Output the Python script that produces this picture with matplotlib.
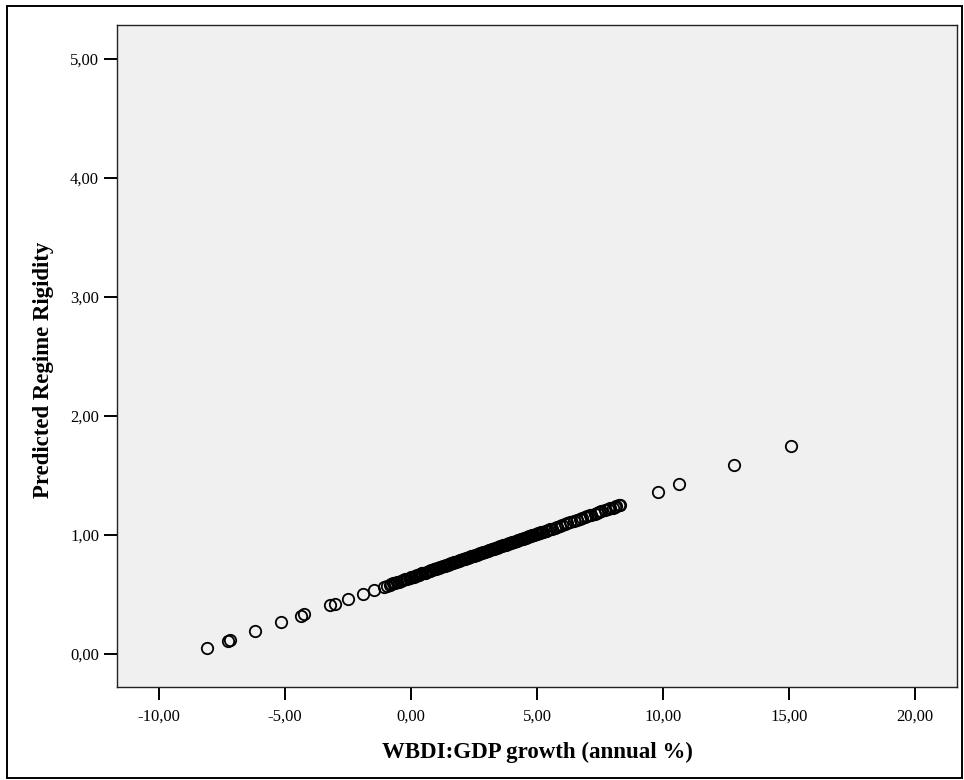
import matplotlib.pyplot as plt
from matplotlib.patches import Rectangle
from matplotlib.ticker import FuncFormatter

# GDP growth (annual %)
gdp_growth = [-8.11, -7.25, -7.18, -6.19, -5.16, -4.38, -4.23, -3.21, -3.02,
              -2.49, -1.92, -1.46, -1.07, -0.85, -0.70, -0.55, -0.40, -0.30,
              -0.15, -0.05, 0.10, 0.20, 0.30, 0.45, 0.55, 0.70, 0.80, 0.90,
              1.00, 1.10, 1.20, 1.30, 1.40, 1.50, 1.60, 1.70, 1.80, 1.90,
              2.00, 2.10, 2.20, 2.30, 2.40, 2.50, 2.60, 2.70, 2.80, 2.90,
              3.00, 3.10, 3.20, 3.30, 3.40, 3.50, 3.60, 3.70, 3.80, 3.90,
              4.00, 4.10, 4.20, 4.30, 4.40, 4.50, 4.60, 4.70, 4.80, 4.90,
              5.00, 5.10, 5.20, 5.35, 5.50, 5.60, 5.80, 6.00, 6.10, 6.30,
              6.45, 6.60, 6.80, 7.00, 7.15, 7.30, 7.45, 7.55, 7.70, 7.90,
              8.00, 8.15, 8.30, 9.81, 10.65, 12.82, 15.07]

# predicted regime rigidity
rigidity = [0.050, 0.113, 0.118, 0.190, 0.266, 0.323, 0.334, 0.409, 0.423,
            0.462, 0.503, 0.537, 0.566, 0.582, 0.593, 0.604, 0.615, 0.622,
            0.633, 0.640, 0.651, 0.659, 0.666, 0.677, 0.684, 0.695, 0.703, 0.710,
            0.717, 0.725, 0.732, 0.739, 0.747, 0.754, 0.761, 0.769, 0.776, 0.783,
            0.791, 0.798, 0.805, 0.813, 0.820, 0.827, 0.835, 0.842, 0.849, 0.857,
            0.864, 0.871, 0.879, 0.886, 0.893, 0.901, 0.908, 0.915, 0.923, 0.930,
            0.937, 0.945, 0.952, 0.959, 0.967, 0.974, 0.981, 0.989, 0.996, 1.003,
            1.011, 1.018, 1.025, 1.036, 1.047, 1.054, 1.069, 1.084, 1.091, 1.106,
            1.117, 1.128, 1.142, 1.157, 1.168, 1.179, 1.190, 1.197, 1.208, 1.223,
            1.230, 1.241, 1.252, 1.363, 1.425, 1.584, 1.749]

# more cases hidden in the solid band of overlapping circles
gdp_growth_band = [-0.95, -0.78, -0.62, -0.48, -0.22, 0.00,
                   0.05, 0.15, 0.25, 0.35, 0.45, 0.55, 0.65, 0.75, 0.85, 0.95,
                   1.05, 1.15, 1.25, 1.35, 1.45, 1.55, 1.65, 1.75, 1.85, 1.95,
                   2.05, 2.15, 2.25, 2.35, 2.45, 2.55, 2.65, 2.75, 2.85, 2.95,
                   3.05, 3.15, 3.25, 3.35, 3.45, 3.55, 3.65, 3.75, 3.85, 3.95,
                   4.05, 4.15, 4.25, 4.35, 4.45, 4.55, 4.65, 4.75, 4.85, 4.95,
                   5.05, 5.15, 5.25, 5.35, 5.45,
                   5.70, 5.90, 6.20, 6.70, 6.90, 7.10, 7.40, 7.80, 8.10, 8.25]
rigidity_band = [0.574, 0.587, 0.599, 0.609, 0.628, 0.644,
                 0.648, 0.655, 0.662, 0.670, 0.677, 0.684, 0.692, 0.699, 0.706, 0.714,
                 0.721, 0.728, 0.736, 0.743, 0.750, 0.758, 0.765, 0.772, 0.780, 0.787,
                 0.794, 0.802, 0.809, 0.816, 0.824, 0.831, 0.838, 0.846, 0.853, 0.860,
                 0.868, 0.875, 0.882, 0.890, 0.897, 0.904, 0.912, 0.919, 0.926, 0.934,
                 0.941, 0.948, 0.956, 0.963, 0.970, 0.978, 0.985, 0.992, 1.000, 1.007,
                 1.014, 1.021, 1.029, 1.036, 1.043,
                 1.062, 1.076, 1.098, 1.135, 1.150, 1.164, 1.186, 1.216, 1.238, 1.249]

x_ticks = [-10, -5, 0, 5, 10, 15, 20]
y_ticks = [0, 1, 2, 3, 4, 5]

plt.rcParams['font.family'] = ['Liberation Serif', 'DejaVu Serif']

fig = plt.figure(figsize=(9.64, 7.80), dpi=100)
ax = fig.add_axes([117/964, 93/780, 840/964, 662/780])
ax.set_facecolor('#f0f0f0')

ax.plot(gdp_growth + gdp_growth_band, rigidity + rigidity_band,
        linestyle='none', marker='o', markersize=8.2,
        markerfacecolor='none', markeredgecolor='black', markeredgewidth=1.3)

ax.set_xlim(-11.67, 21.67)
ax.set_ylim(-0.277, 5.283)
ax.set_xticks(x_ticks)
ax.set_yticks(y_ticks)
comma = FuncFormatter(lambda v, p: f"{v:.2f}".replace('.', ','))
ax.xaxis.set_major_formatter(comma)
ax.yaxis.set_major_formatter(comma)
ax.tick_params(axis='both', direction='out', length=9.4, width=1.4,
               labelsize=12, colors='black')
ax.tick_params(axis='x', pad=6)
ax.tick_params(axis='y', pad=3.5)
for s in ax.spines.values():
    s.set_linewidth(1.0)
    s.set_color('#222222')

fig.text(537/964, 1 - 752/780, 'WBDI:GDP growth (annual %)', ha='center',
         va='center', fontsize=16.5, fontweight='bold')
fig.text(44/964, 1 - 370/780, 'Predicted Regime Rigidity', ha='center',
         va='center', rotation=90, fontsize=16.5, fontweight='bold')

# outer frame round the whole chart
fig.add_artist(Rectangle((7/964, 2/780), 955/964, 772/780,
                         transform=fig.transFigure, fill=False,
                         edgecolor='black', linewidth=1.4))

fig.savefig('out.png', dpi=100)
